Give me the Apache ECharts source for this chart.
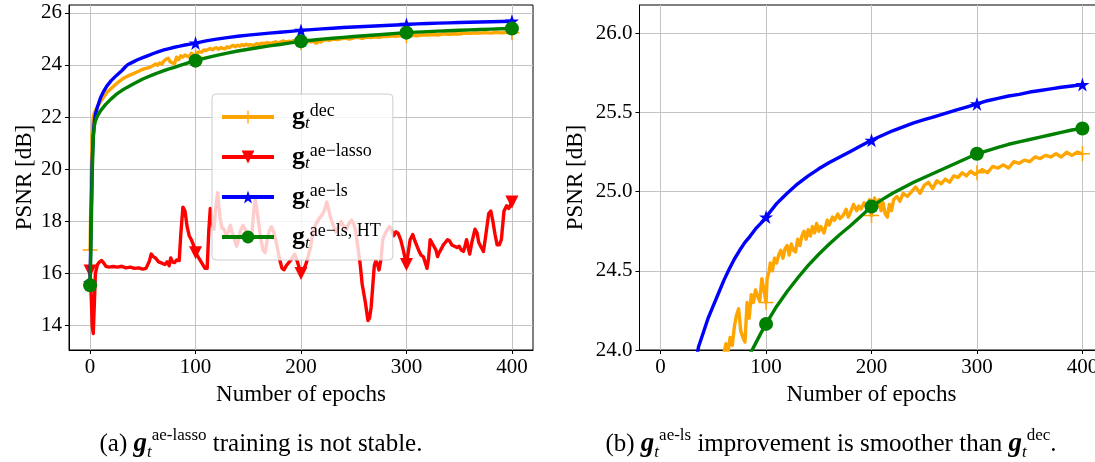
<!DOCTYPE html>
<html><head><meta charset="utf-8">
<script src="https://cdn.jsdelivr.net/npm/echarts@6/dist/echarts.min.js"></script>
<style>html,body{margin:0;padding:0;background:#fff;overflow:hidden;width:1095px;height:462px}#c{width:1130px;height:462px}</style>
</head><body><div id="c"></div><script>
const FONT = '"Liberation Serif", "DejaVu Serif", serif';
const xTicks = [0, 100, 200, 300, 400];
const yTicksLeft = [14, 16, 18, 20, 22, 24, 26];
const yTicksRight = [24.0, 24.5, 25.0, 25.5, 26.0];
const markerEpochs = [0, 100, 200, 300, 400];
const seriesNames = ['dec', 'ae-lasso', 'ae-ls', 'ae-ls, HT'];
const legendSup = { 'dec': 'dec', 'ae-lasso': 'ae\u2212lasso', 'ae-ls': 'ae\u2212ls', 'ae-ls, HT': 'ae\u2212ls, HT' };
const xAxisName = 'Number of epochs';
const yAxisName = 'PSNR [dB]';

// g_t^dec (orange)
const decEpochs = [0,1,2,3,4,5,7,10,13,16,20,24,28,32,36,40,44,48,52,56,60,62,64,66,68,70,72,74,76,78,80,82,84,86,88,90,92,94,96,98,100,101,103,104,106,108,110,112,114,116,118,120,122,124,126,128,130,132,134,136,138,140,142,144,146,148,150,152,155,158,160,163,165,168,170,173,176,178,180,183,186,188,190,193,196,198,200,201,203,205,207,209,211,213,215,217,219,221,224,227,230,234,238,242,246,250,254,258,262,266,270,274,278,282,286,290,294,298,300,305,310,315,320,325,330,335,340,345,350,355,360,365,370,375,380,385,390,395,400];
const decPSNR = [16.9,19.6,21.4,22.0,22.15,22.25,22.4,22.6,22.78,22.95,23.1,23.25,23.38,23.5,23.58,23.65,23.72,23.8,23.86,23.9,23.98,24.04,23.99,24.08,24.03,24.15,24.22,24.26,24.12,24.08,24.05,24.3,24.2,24.35,24.3,24.38,24.34,24.31,24.45,24.38,24.30,24.45,24.5,24.55,24.5,24.58,24.55,24.6,24.63,24.58,24.64,24.66,24.6,24.67,24.63,24.62,24.7,24.66,24.72,24.75,24.7,24.76,24.72,24.78,24.74,24.8,24.75,24.78,24.74,24.82,24.79,24.84,24.82,24.86,24.83,24.85,24.89,24.84,24.87,24.92,24.88,24.91,24.89,24.93,24.9,24.95,24.85,24.92,24.96,24.9,24.95,24.88,24.93,24.86,24.84,24.92,24.88,24.95,24.97,24.94,24.99,24.97,25.0,25.03,24.99,25.04,25.06,25.02,25.07,25.05,25.08,25.06,25.1,25.09,25.12,25.1,25.13,25.11,25.12,25.14,25.12,25.16,25.15,25.17,25.15,25.19,25.18,25.2,25.19,25.22,25.21,25.23,25.22,25.24,25.22,25.25,25.23,25.25,25.24];

// g_t^ae-lasso (red)
const lassoEpochs = [0,1,2,3,4,5,7,9,11,13,15,18,22,26,30,34,38,42,46,50,53,56,58,60,62,65,68,71,73,75,76.5,78,80,82,84.5,86,88,90,92,94,96,98,100,103,106,109,111,112.5,114,116,117.5,119,121,123,125,127,129,131,133,135,137,139,141,143,145,147,149,151,153,155,156.5,158,160,162,164,166,168,170,172,174,176,178,180,182,184,186,188,191,194,197,200,203,205,207,209,211,214,217,220,222,224.5,226,228,231,233,235,238,240,243,245,248,250,251.5,254,256,258,261,263.5,265,266.5,268,269.5,271,272.5,274,276,277.5,280,282,284,286,288,290,292,294.5,297,300,302,303.5,306,308,310,312,314,316,318,319.5,321,322.5,324,326,328,329.5,331,333,335,337,339,341,343,345.5,348,350,352,354,355.5,357,358.5,360,362,365,367,368.5,371,373,375,378,380,382,384,386,388,390,392.5,395,397,400];
const lassoPSNR = [16.1,15.2,14.0,13.7,14.8,16.0,16.35,16.45,16.5,16.4,16.28,16.25,16.27,16.25,16.28,16.22,16.25,16.2,16.22,16.17,16.2,16.45,16.75,16.65,16.6,16.45,16.4,16.35,16.45,16.3,16.6,16.45,16.42,16.52,16.5,17.5,18.55,18.4,17.8,17.45,17.3,17.1,16.8,16.6,16.4,16.2,16.2,17.6,18.5,17.9,17.7,18.5,19.1,18.2,17.75,17.7,17.45,17.6,17.85,17.55,17.3,17.05,17.35,17.7,17.85,17.7,17.5,17.45,17.3,18.3,18.85,18.5,17.9,17.3,16.9,16.8,17.3,17.65,17.8,17.6,17.3,16.9,16.5,16.2,16.15,16.3,16.4,16.55,16.75,16.4,16.0,16.2,16.4,16.7,17.0,17.5,17.9,18.1,18.25,18.4,18.75,18.5,18.15,17.8,17.6,17.75,18.0,17.85,17.7,17.9,18.05,17.9,17.7,17.0,16.4,15.6,14.9,14.2,14.3,14.7,15.5,16.3,16.5,16.35,16.14,16.6,17.3,17.55,17.7,17.8,17.65,17.45,17.6,17.55,17.3,16.9,16.35,16.9,17.3,17.5,17.25,17.05,16.85,16.7,16.65,16.4,16.2,16.6,17.3,17.25,17.05,16.9,16.65,16.8,16.95,17.1,17.2,17.3,17.25,17.1,17.05,17.0,17.05,16.9,16.85,17.05,17.3,17.0,16.75,17.2,17.7,17.55,17.2,17.0,16.85,17.4,18.3,18.4,18.0,17.5,17.1,17.1,17.3,18.4,18.6,18.5,18.75];

// g_t^ae-ls (blue)
const lsEpochs = [0,1,2,3,4,5,7,10,13,16,20,25,30,34,36,40,45,50,55,60,65,70,75,80,85,90,95,100,110,120,130,140,150,160,170,180,190,200,210,220,230,240,250,260,270,280,290,300,310,320,330,340,350,360,370,380,390,400];
const lsPSNR = [15.65,18.2,20.3,21.3,21.8,22.1,22.4,22.75,23.0,23.2,23.4,23.6,23.78,23.95,24.02,24.1,24.2,24.28,24.36,24.44,24.51,24.575,24.63,24.68,24.72,24.765,24.80,24.84,24.925,24.99,25.05,25.10,25.145,25.185,25.22,25.255,25.29,25.325,25.355,25.385,25.41,25.435,25.455,25.475,25.495,25.515,25.535,25.555,25.575,25.59,25.605,25.615,25.63,25.64,25.65,25.66,25.668,25.677];

// g_t^ae-ls, HT (green)
const htEpochs = [0,1,2,3,4,5,7,10,15,20,25,30,35,40,45,50,55,60,65,70,75,80,86,90,95,100,110,120,130,140,150,160,170,180,190,200,210,220,230,240,250,260,270,280,290,300,310,320,330,340,350,360,370,380,390,400];
const htPSNR = [15.55,17.5,19.8,21.2,21.65,21.85,22.05,22.25,22.5,22.7,22.88,23.02,23.14,23.25,23.36,23.46,23.55,23.63,23.71,23.78,23.85,23.91,23.99,24.04,24.105,24.165,24.275,24.37,24.455,24.535,24.605,24.67,24.73,24.785,24.845,24.906,24.95,24.99,25.025,25.06,25.09,25.12,25.15,25.18,25.21,25.24,25.26,25.28,25.30,25.315,25.33,25.345,25.36,25.375,25.39,25.40];

const STAR = 'path://M50,0 L61.8,35.1 L98.9,35.1 L68.8,56.8 L80.3,91.9 L50,70.2 L19.7,91.9 L31.2,56.8 L1.1,35.1 L38.2,35.1 Z';
const PLUS = 'path://M45,0 H55 V45 H100 V55 H55 V100 H45 V55 H0 V45 H45 Z';

const seriesDefs = [
  { name: 'dec', ep: decEpochs, val: decPSNR, color: '#FFA500', symbol: PLUS, size: 15, rot: 0 },
  { name: 'ae-lasso', ep: lassoEpochs, val: lassoPSNR, color: '#FF0000', symbol: 'triangle', size: 13, rot: 180 },
  { name: 'ae-ls', ep: lsEpochs, val: lsPSNR, color: '#0000FF', symbol: STAR, size: 14, rot: 0 },
  { name: 'ae-ls, HT', ep: htEpochs, val: htPSNR, color: '#008000', symbol: 'circle', size: 14, rot: 0 }
];

function pairs(ep, val) { return ep.map((e, i) => [e, val[i]]); }

const series = [];
[0, 1].forEach(gi => {
  seriesDefs.forEach((d, k) => {
    series.push({
      type: 'line', name: d.name, xAxisIndex: gi, yAxisIndex: gi,
      data: pairs(d.ep, d.val),
      symbol: d.symbol, symbolRotate: d.rot, showSymbol: true,
      symbolSize: v => markerEpochs.includes(v[0]) ? d.size : 0,
      color: d.color,
      lineStyle: { color: d.color, width: 3.4, join: 'round' },
      itemStyle: { color: d.color, borderWidth: 0 },
      smooth: false, clip: true, z: 2 + k, silent: true,
      emphasis: { disabled: true }
    });
  });
});

const axisTxt = { fontFamily: FONT, fontSize: 21, color: '#000' };
const gridLine = { show: true, lineStyle: { color: '#c4c4c4', width: 1 } };

function xAx(gi) {
  return {
    type: 'value', gridIndex: gi, min: -20, max: 420,
    name: xAxisName, nameLocation: 'middle', nameGap: 33,
    nameTextStyle: { fontFamily: FONT, fontSize: 23, color: '#000' },
    axisLine: { show: true, onZero: false, lineStyle: { color: '#000', width: 1 } },
    axisTick: { show: true, length: 4, customValues: xTicks, lineStyle: { color: '#000' } },
    axisLabel: Object.assign({ margin: 7, customValues: xTicks }, axisTxt),
    splitLine: gridLine
  };
}
function yAx(gi, mn, mx, ticks, fmt) {
  return {
    type: 'value', gridIndex: gi, min: mn, max: mx,
    name: yAxisName, nameLocation: 'middle', nameGap: gi === 0 ? 33 : 52,
    nameTextStyle: { fontFamily: FONT, fontSize: 23, color: '#000' },
    axisLine: { show: true, onZero: false, lineStyle: { color: '#000', width: 1 } },
    axisTick: { show: true, length: 4, customValues: ticks, lineStyle: { color: '#000' } },
    axisLabel: Object.assign({ margin: 7, customValues: ticks, formatter: fmt }, axisTxt),
    splitLine: gridLine
  };
}

const capRich = {
  n: { fontFamily: FONT, fontSize: 25, color: '#000', lineHeight: 34, verticalAlign: 'middle' },
  g: { fontFamily: FONT, fontSize: 27, fontWeight: 'bold', fontStyle: 'italic', color: '#000', lineHeight: 34, verticalAlign: 'middle' },
  t: { fontFamily: FONT, fontSize: 17, fontStyle: 'italic', color: '#000', lineHeight: 14, verticalAlign: 'bottom' },
  s: { fontFamily: FONT, fontSize: 17, color: '#000', lineHeight: 16, verticalAlign: 'top' }
};

const option = {
  animation: false,
  backgroundColor: '#fff',
  grid: [
    { left: 69, top: 5, width: 464, height: 345, show: true, borderColor: '#000', borderWidth: 1, backgroundColor: 'transparent' },
    { left: 639.5, top: 5, width: 464, height: 345, show: true, borderColor: '#000', borderWidth: 1, backgroundColor: 'transparent' }
  ],
  xAxis: [xAx(0), xAx(1)],
  yAxis: [
    yAx(0, 13.07, 26.3, yTicksLeft, v => String(v)),
    yAx(1, 24.0, 26.18, yTicksRight, v => v.toFixed(1))
  ],
  legend: {
    orient: 'vertical', left: 212, top: 94,
    padding: [8, 12, 8, 8], itemWidth: 52, itemHeight: 16, itemGap: 10,
    backgroundColor: 'rgba(255,255,255,0.8)', borderColor: '#cccccc', borderWidth: 1, borderRadius: 4,
    selectedMode: false, z: 10,
    lineStyle: { width: 4 },
    data: seriesNames,
    formatter: name => '{g|g}{t|t}{s|' + legendSup[name] + '}',
    textStyle: {
      rich: {
        g: { fontFamily: FONT, fontSize: 26, fontWeight: 'bold', color: '#000', lineHeight: 30, verticalAlign: 'middle', padding: [0, 0, 0, 13] },
        t: { fontFamily: FONT, fontSize: 17, fontStyle: 'italic', color: '#000', lineHeight: 14, verticalAlign: 'bottom' },
        s: { fontFamily: FONT, fontSize: 18, color: '#000', lineHeight: 16, verticalAlign: 'top' }
      }
    }
  },
  graphic: [
    { type: 'text', x: 261, y: 444, style: { text: '{n|(a) }{g|g}{t|t}{s|ae-lasso}{n| training is not stable.}', rich: capRich, align: 'center', verticalAlign: 'middle' } },
    { type: 'text', x: 831, y: 444, style: { text: '{n|(b) }{g|g}{t|t}{s|ae-ls}{n| improvement is smoother than }{g|g}{t|t}{s|dec}{n|.}', rich: capRich, align: 'center', verticalAlign: 'middle' } }
  ],
  series: series
};

echarts.init(document.getElementById('c'), null, { renderer: 'canvas' }).setOption(option);
</script></body></html>
